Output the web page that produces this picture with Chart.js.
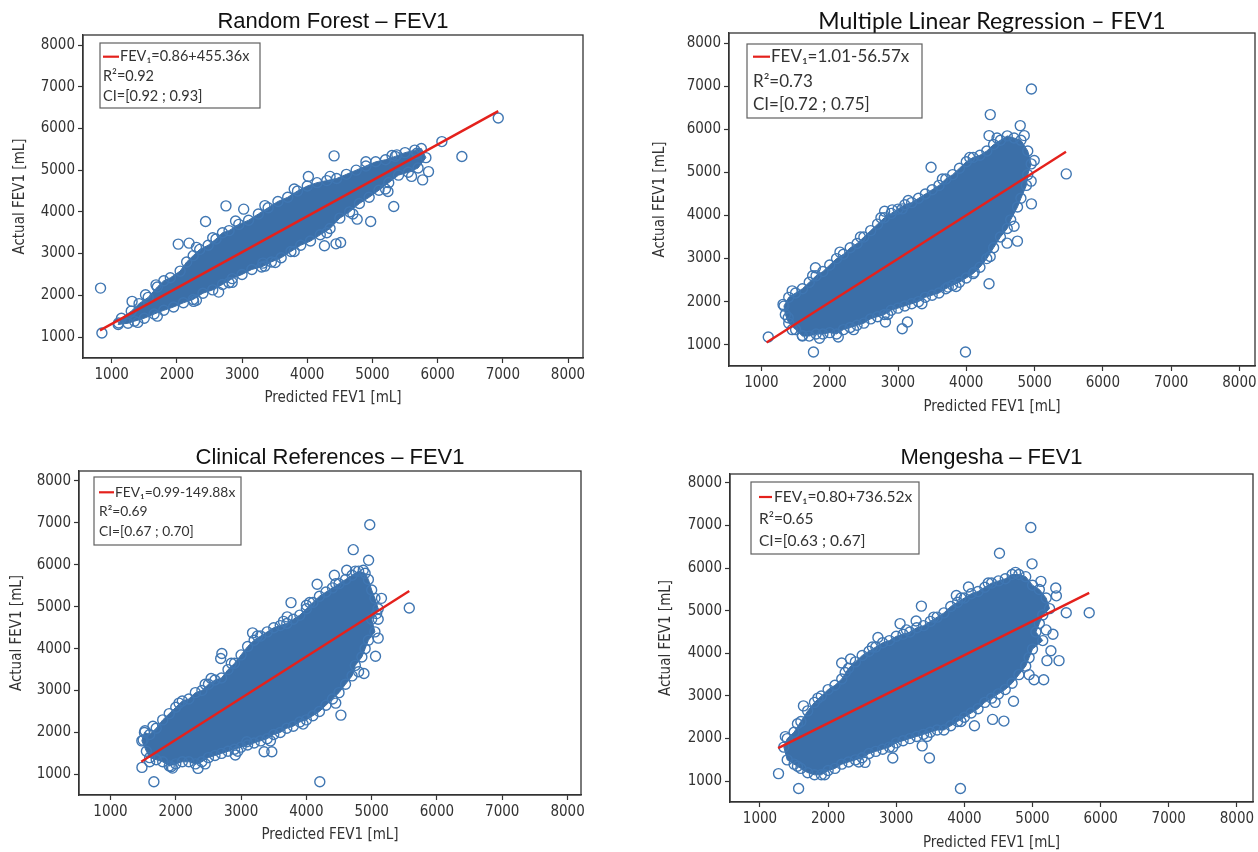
<!DOCTYPE html>
<html><head><meta charset="utf-8">
<script src="https://cdn.jsdelivr.net/npm/chart.js@4"></script>
<style>
html,body{margin:0;padding:0;background:#fff;width:1258px;height:852px;overflow:hidden;position:relative}
canvas{position:absolute}
</style></head><body>
<canvas id="c1"></canvas><canvas id="c2"></canvas><canvas id="c3"></canvas><canvas id="c4"></canvas>
<script>
// ---------- shared labels ----------
const tickValues = [1000, 2000, 3000, 4000, 5000, 6000, 7000, 8000];
const xAxisTitle = 'Predicted FEV1 [mL]';
const yAxisTitle = 'Actual FEV1 [mL]';

// ---------- Random Forest ----------
const rfTitle = 'Random Forest – FEV1';
const rfLegend = ['FEV₁=0.86+455.36x', 'R²=0.92', 'CI=[0.92 ; 0.93]'];
const rfFit = [[820, 1160], [6930, 6415]];
// edge of the dense cloud: upper side (left to right), lower side (right to left)
const rfUpper = [[1150,1450],[1300,1620],[1420,1800],[1560,1950],[1700,2200],[1800,2350],[1900,2420],[2050,2580],[2150,2800],[2250,2950],[2350,3100],[2480,3200],[2600,3350],[2700,3500],[2800,3550],[2950,3700],[3100,3800],[3250,3950],[3400,4100],[3550,4250],[3700,4350],[3850,4500],[4000,4620],[4150,4700],[4300,4750],[4450,4800],[4600,4900],[4750,5000],[4900,5100],[5050,5200],[5200,5250],[5350,5330],[5500,5420],[5650,5480],[5750,5520]];
const rfLower = [[5820,5300],[5700,5050],[5550,4950],[5400,4880],[5250,4700],[5100,4520],[4950,4350],[4800,4200],[4650,4000],[4500,3850],[4350,3600],[4200,3450],[4050,3300],[3900,3200],[3750,3050],[3600,2900],[3450,2800],[3300,2680],[3150,2620],[3000,2500],[2850,2400],[2700,2260],[2550,2130],[2400,2050],[2250,1900],[2100,1820],[1950,1720],[1800,1640],[1650,1550],[1500,1450],[1350,1380],[1250,1330],[1100,1300]];
const rfOther = [[829,2173],[850,1096],[6930,6250],[6372,5326],[6065,5685],[5860,4965],[5770,4767],[4412,5342],[4017,4847],[2753,4144],[2440,3769],[2021,3227],[2187,3250],[4264,3187],[4441,3234],[4512,3267],[5327,4128],[4973,3769],[4766,3825],[2641,2077],[2257,1854],[1313,1854],[1106,1335],[5374,5366],[5681,5405],[1519,2013],[3025,4065],[3509,2788],[3320,2772],[2848,2309],[5238,4488],
  [1680,2250],[2300,3150],[2550,3380],[2900,3780],[3350,4150],[3800,4550],[4350,4850],[4900,5200],[5300,5350],[5600,4850],[5200,4550],[4700,3950],[4300,3500],[3800,3050],[3350,2700],[2800,2300],[2300,1880],[1700,1500],[1400,1350]];

// ---------- Multiple Linear Regression ----------
const mlrTitle = 'Multiple Linear Regression – FEV1';
const mlrLegend = ['FEV₁=1.01-56.57x', 'R²=0.73', 'CI=[0.72 ; 0.75]'];
const mlrFit = [[1075, 1050], [5460, 5480]];
const mlrUpper = [[1330,1900],[1400,2100],[1500,2200],[1600,2300],[1700,2450],[1800,2600],[1900,2700],[2000,2850],[2100,3000],[2200,3100],[2300,3250],[2400,3350],[2500,3500],[2600,3650],[2700,3800],[2800,3950],[2900,4050],[3000,4150],[3100,4250],[3200,4300],[3300,4400],[3400,4500],[3500,4600],[3600,4700],[3700,4850],[3800,4950],[3900,5100],[4000,5250],[4100,5350],[4200,5400],[4300,5500],[4400,5650],[4500,5750],[4600,5850],[4700,5800],[4800,5750]];
const mlrLower = [[4900,5500],[4950,5200],[4900,4950],[4880,4700],[4800,4400],[4750,4200],[4650,3900],[4600,3700],[4500,3500],[4400,3250],[4300,3000],[4200,2800],[4100,2650],[4000,2550],[3900,2450],[3800,2380],[3700,2300],[3600,2200],[3500,2150],[3400,2100],[3300,2000],[3200,1950],[3100,1900],[3000,1850],[2900,1800],[2800,1700],[2700,1650],[2600,1600],[2500,1500],[2400,1450],[2300,1400],[2200,1350],[2100,1250],[2000,1280],[1900,1250],[1800,1250],[1700,1200],[1600,1200],[1500,1350],[1400,1500],[1350,1700]];
const mlrOther = [[4954,6940],[4351,6344],[4790,6089],[4333,5857],[5464,4967],[4954,4271],[4749,3405],[4597,3359],[4333,2415],[3988,830],[1762,830],[1100,1178],[1316,1936],[2125,1178],[2816,1526],[3062,1371],[3138,1526],[1791,2787],[3484,5122],[2804,4101],[2916,4132],[3062,4155],[1392,1626],[1598,1217],[3736,2338],[4117,2686],[4995,5277],[4849,5857],
  [1450,2250],[1750,2600],[2150,3150],[2450,3500],[2750,3950],[3150,4350],[3650,4850],[4050,5350],[4450,5800],[4950,4800],[4700,3750],[4350,3050],[3850,2350],[3350,1950],[2850,1700],[2350,1350],[1850,1150],[1450,1350]];

// ---------- Clinical References ----------
const crTitle = 'Clinical References – FEV1';
const crLegend = ['FEV₁=0.99-149.88x', 'R²=0.69', 'CI=[0.67 ; 0.70]'];
const crFit = [[1471, 1302], [5576, 5376]];
const crUpper = [[1480,1800],[1520,2000],[1600,1950],[1700,2100],[1800,2300],[1900,2450],[2000,2600],[2100,2750],[2200,2800],[2300,2950],[2400,3000],[2500,3150],[2600,3250],[2700,3300],[2800,3500],[2900,3650],[3000,3850],[3100,4050],[3200,4200],[3300,4300],[3400,4400],[3500,4500],[3600,4550],[3700,4600],[3800,4700],[3900,4800],[4000,4950],[4100,5100],[4200,5250],[4300,5350],[4400,5450],[4500,5550],[4600,5650],[4700,5750],[4800,5850],[4900,5800],[4950,5650]];
const crLower = [[5000,5400],[5050,5200],[5100,4950],[5000,4700],[5050,4400],[4950,4200],[4900,4000],[4850,3800],[4750,3600],[4700,3350],[4600,3150],[4500,2950],[4400,2800],[4300,2650],[4200,2500],[4100,2400],[4000,2300],[3900,2250],[3800,2150],[3700,2100],[3600,2000],[3500,1950],[3400,1850],[3300,1800],[3200,1750],[3100,1700],[3000,1650],[2900,1600],[2800,1550],[2700,1500],[2600,1450],[2500,1400],[2400,1300],[2300,1250],[2200,1300],[2100,1300],[2000,1250],[1900,1200],[1800,1300],[1700,1350],[1600,1400],[1550,1550]];
const crOther = [[4971,6957],[4718,6361],[4953,6107],[5576,4971],[4429,5750],[3765,5098],[4165,5535],[5076,4836],[5059,3820],[4882,3407],[4529,2414],[4206,825],[1665,825],[1482,1167],[1500,1818],[1529,2040],[2706,3883],[2688,3764],[2912,1461],[3353,1540],[3471,1540],[3088,1778],[2341,1143],[1929,1183],[2541,3288],[3176,4376],[3706,4757],[4000,5035],[4618,5869],[4871,5869],[5150,5200],[5100,4250],
  [1650,2150],[2050,2700],[2450,3150],[2850,3650],[3250,4300],[3650,4650],[4050,5100],[4450,5550],[4750,5850],[5100,4700],[4800,3450],[4450,2700],[3950,2200],[3450,1800],[2950,1550],[2450,1250],[1950,1150],[1600,1300]];

// ---------- Mengesha ----------
const mgTitle = 'Mengesha – FEV1';
const mgLegend = ['FEV₁=0.80+736.52x', 'R²=0.65', 'CI=[0.63 ; 0.67]'];
const mgFit = [[1266, 1775], [5832, 5419]];
const mgUpper = [[1350,1800],[1400,2000],[1500,2150],[1600,2400],[1700,2650],[1800,2850],[1900,3000],[2000,3150],[2100,3250],[2200,3400],[2300,3650],[2400,3800],[2500,3950],[2600,4050],[2700,4150],[2800,4250],[2900,4300],[3000,4400],[3100,4450],[3200,4500],[3300,4600],[3400,4650],[3500,4750],[3600,4850],[3700,4950],[3800,5100],[3900,5200],[4000,5300],[4100,5400],[4200,5450],[4300,5550],[4400,5650],[4500,5700],[4600,5750],[4700,5850],[4800,5850],[4900,5800]];
const mgLower = [[5000,5600],[5100,5500],[5200,5300],[5250,5050],[5150,4900],[5100,4700],[5050,4500],[5150,4300],[5000,4100],[4950,3900],[4900,3700],[4800,3500],[4700,3300],[4600,3150],[4500,3050],[4400,2950],[4300,2850],[4200,2700],[4100,2600],[4000,2500],[3900,2400],[3800,2300],[3700,2200],[3600,2200],[3500,2150],[3400,2100],[3300,2050],[3200,2000],[3100,1950],[3000,1900],[2900,1800],[2800,1750],[2700,1700],[2600,1650],[2500,1550],[2400,1500],[2300,1450],[2200,1400],[2100,1300],[2000,1250],[1900,1150],[1800,1150],[1700,1200],[1600,1300],[1500,1400],[1400,1500]];
const mgOther = [[4975,6953],[4515,6349],[4993,6101],[5832,4953],[5389,3829],[5164,3380],[5022,3380],[4721,2876],[4580,2411],[4414,2450],[4148,2302],[3942,829],[1567,829],[1272,1178],[1372,2047],[1638,2767],[2199,3775],[2329,3868],[2731,4372],[3056,4698],[3369,5109],[3292,4760],[4060,5558],[3882,5357],[2542,1442],[2949,1543],[3487,1543],[3381,1829],[5341,5535],[5123,5690],[5495,4953],[5270,4062],[5212,3829],[5300,4450],[5350,5350],
  [1550,2350],[1850,2950],[2250,3550],[2650,4150],[3150,4550],[3550,4850],[3950,5300],[4350,5650],[4750,5900],[5200,4550],[4950,3500],[4450,2850],[3950,2400],[3450,2050],[2950,1800],[2450,1450],[1950,1150],[1550,1350]];

// ---------- styling / layout ----------
const RING = '#3f76b2', CORE = '#3b6fa8', RED = '#e4211c';
const TICKFONT = "'DejaVu Sans Condensed', 'DejaVu Sans', sans-serif";
const AXIS = '#333333';

const panels = [
  {id:'c1', title:rfTitle, tfont:{family:"'Liberation Sans', Arial, sans-serif", size:22}, tpad:{top:11,bottom:2},
   upper:rfUpper, lower:rfLower, other:rfOther, fit:rfFit, legend:rfLegend,
   box:{left:7, top:0, width:652, height:411}, yw:76, xh:53, x:[560,8230], y:[497,8240],
   lg:{dx:17, dy:8, w:160, h:65, rows:[21.7,41.7,61.7], lx:20, lx2:36, tx:37, size:14.5}},
  {id:'c2', title:mlrTitle, tfont:{family:"Lato, sans-serif", size:23}, tpad:{top:10,bottom:0},
   upper:mlrUpper, lower:mlrLower, other:mlrOther, fit:mlrFit, legend:mlrLegend,
   box:{left:647, top:0, width:690, height:420}, yw:82, xh:54, x:[525,8228], y:[505,8240],
   lg:{dx:18, dy:11, w:175, h:74, rows:[23.7,48.7,72], lx:24, lx2:41, tx:42, size:17}},
  {id:'c3', title:crTitle, tfont:{family:"'Liberation Sans', Arial, sans-serif", size:22}, tpad:{top:7,bottom:2},
   upper:crUpper, lower:crLower, other:crOther, fit:crFit, legend:crLegend,
   box:{left:4, top:440, width:652, height:408}, yw:75, xh:53, x:[518,8206], y:[508,8238],
   lg:{dx:15, dy:6, w:147, h:68, rows:[21.3,40.7,60.7], lx:20, lx2:35, tx:36, size:13.8}},
  {id:'c4', title:mgTitle, tfont:{family:"'Liberation Sans', Arial, sans-serif", size:22}, tpad:{top:7,bottom:5},
   upper:mgUpper, lower:mgLower, other:mgOther, fit:mgFit, legend:mgLegend,
   box:{left:653, top:440, width:677, height:416}, yw:77, xh:54, x:[560,8236], y:[512,8209],
   lg:{dx:21, dy:8, w:168, h:72, rows:[23,45,67], lx:29, lx2:42, tx:44, size:15.5}}
];

const framePlugin = {
  id:'frame',
  afterDraw(chart){
    const {ctx, chartArea:a} = chart;
    ctx.save(); ctx.strokeStyle = AXIS; ctx.lineWidth = 1.3;
    ctx.strokeRect(a.left, a.top, a.right - a.left, a.bottom - a.top);
    ctx.restore();
  }
};

function makeLegendPlugin(p){
  return {
    id:'fitBox_' + p.id,
    afterDraw(chart){
      const {ctx, chartArea:a} = chart; const g = p.lg;
      ctx.save();
      ctx.fillStyle = '#fff'; ctx.fillRect(a.left + g.dx, a.top + g.dy, g.w, g.h);
      ctx.strokeStyle = '#606060'; ctx.lineWidth = 1.2;
      ctx.strokeRect(a.left + g.dx, a.top + g.dy, g.w, g.h);
      ctx.strokeStyle = RED; ctx.lineWidth = 2.2;
      ctx.beginPath(); ctx.moveTo(a.left + g.lx, a.top + g.rows[0]); ctx.lineTo(a.left + g.lx2, a.top + g.rows[0]); ctx.stroke();
      ctx.fillStyle = '#333'; ctx.textBaseline = 'middle'; ctx.textAlign = 'left';
      ctx.font = g.size + 'px Lato, sans-serif';
      ctx.fillText(p.legend[0], a.left + g.tx, a.top + g.rows[0]);
      ctx.fillText(p.legend[1], a.left + g.lx, a.top + g.rows[1]);
      ctx.fillText(p.legend[2], a.left + g.lx, a.top + g.rows[2]);
      ctx.restore();
    }
  };
}

const toXY = arr => arr.map(([x, y]) => ({x, y}));

panels.forEach(p => {
  const cv = document.getElementById(p.id);
  cv.width = p.box.width; cv.height = p.box.height;
  Object.assign(cv.style, {left:p.box.left + 'px', top:p.box.top + 'px', width:p.box.width + 'px', height:p.box.height + 'px'});
  const edge = p.upper.concat(p.lower);
  const cloud = toXY(edge.concat([edge[0]]));
  const rings = toXY(edge.concat(p.other));
  const axisCommon = (title, fitFn) => ({
    type:'linear',
    afterBuildTicks: s => { s.ticks = tickValues.map(v => ({value:v})); },
    afterFit: fitFn,
    ticks:{autoSkip:false, maxRotation:0, padding:3, color:'#333', font:{family:TICKFONT, size:15}, callback: v => String(v)},
    grid:{display:true, drawOnChartArea:false, drawTicks:true, tickLength:5, tickColor:AXIS, tickWidth:1.2},
    border:{display:true, color:AXIS, width:1.3},
    title:{display:true, text:title, color:'#333', font:{family:TICKFONT, size:15, lineHeight:1.2}, padding:{top:4, bottom:4}}
  });
  new Chart(cv, {
    type:'scatter',
    data:{datasets:[
      {type:'line', label:p.legend[0], data:toXY(p.fit), borderColor:RED, borderWidth:2.4, pointRadius:0, fill:false, order:0},
      {type:'scatter', label:'observations', data:rings, pointRadius:5, pointHoverRadius:5, borderWidth:1.4,
       borderColor:RING, backgroundColor:'rgba(0,0,0,0)', order:1},
      {type:'line', label:'dense', data:cloud, borderColor:CORE, borderWidth:1, backgroundColor:CORE,
       fill:'shape', pointRadius:0, tension:0, order:2}
    ]},
    options:{
      responsive:false, animation:false, devicePixelRatio:1,
      layout:{padding:0},
      plugins:{
        legend:{display:false}, tooltip:{enabled:false},
        title:{display:true, text:p.title, color:'#111', font:Object.assign({weight:'normal', lineHeight:1}, p.tfont), padding:p.tpad}
      },
      scales:{
        x:Object.assign(axisCommon(xAxisTitle, s => { s.height = p.xh; }), {min:p.x[0], max:p.x[1]}),
        y:Object.assign(axisCommon(yAxisTitle, s => { s.width = p.yw; }), {min:p.y[0], max:p.y[1]}),
        yRight:{type:'linear', position:'right', display:true, afterFit: s => { s.width = p.yw; },
          grid:{display:false}, ticks:{display:false}, border:{display:false}, title:{display:false}}
      }
    },
    plugins:[framePlugin, makeLegendPlugin(p)]
  });
});
</script>
</body></html>
